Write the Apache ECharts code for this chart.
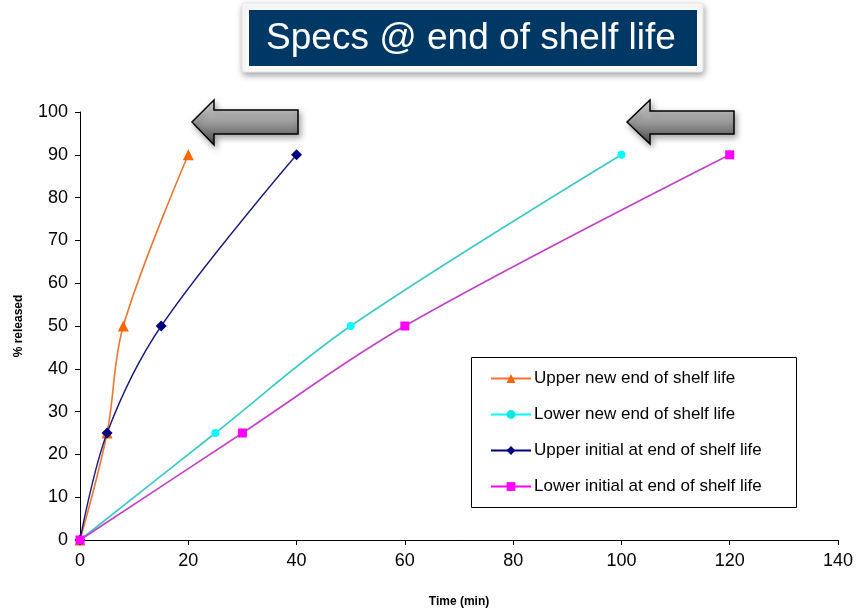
<!DOCTYPE html>
<html>
<head>
<meta charset="utf-8">
<script src="https://cdn.jsdelivr.net/npm/echarts@6/dist/echarts.min.js"></script>
<style>
  html, body { margin: 0; padding: 0; background: #ffffff; }
  #chart { width: 859px; height: 608px; }
</style>
</head>
<body>
<div id="chart"></div>
<script>
// Dissolution profiles: time (min) vs % released
const seriesNames = [
  'Upper new end of shelf life',
  'Lower new end of shelf life',
  'Upper initial at end of shelf life',
  'Lower initial at end of shelf life'
];
const upperNewTime = [0, 5, 8, 20];
const upperNewPct = [0, 25, 50, 90];
const lowerNewTime = [0, 25, 50, 100];
const lowerNewPct = [0, 25, 50, 90];
const upperInitialTime = [0, 5, 15, 40];
const upperInitialPct = [0, 25, 50, 90];
const lowerInitialTime = [0, 30, 60, 120];
const lowerInitialPct = [0, 25, 50, 90];

const xTitle = 'Time (min)';
const yTitle = '% released';
const headline = 'Specs @ end of shelf life';

function pairs(xs, ys) {
  return xs.map((x, i) => [x, ys[i]]);
}

const chart = echarts.init(document.getElementById('chart'), null, { renderer: 'canvas' });

const FONT = 'Liberation Sans, Arial, sans-serif';

function arrow(tipX, tipY, headX, headTop, headBottom, shaftTop, shaftBottom, tailX) {
  return {
    type: 'polygon',
    z: 100,
    shape: {
      points: [
        [tipX, tipY], [headX, headTop], [headX, shaftTop], [tailX, shaftTop],
        [tailX, shaftBottom], [headX, shaftBottom], [headX, headBottom]
      ]
    },
    style: {
      fill: new echarts.graphic.LinearGradient(0, 0, 0, 1, [
        { offset: 0, color: '#e0e0e0' },
        { offset: 0.5, color: '#9a9a9a' },
        { offset: 1, color: '#4a4a4a' }
      ]),
      stroke: '#000000',
      lineWidth: 1.5,
      shadowBlur: 6,
      shadowOffsetX: 2,
      shadowOffsetY: 3,
      shadowColor: 'rgba(0,0,0,0.35)'
    }
  };
}

const option = {
  backgroundColor: '#ffffff',
  animation: false,
  textStyle: { fontFamily: FONT },
  grid: { left: 80, right: 21, top: 112, bottom: 68, containLabel: false, outerBoundsMode: 'none' },
  xAxis: {
    type: 'value',
    min: 0, max: 140, interval: 20,
    name: xTitle,
    nameLocation: 'middle',
    nameGap: 56,
    nameTextStyle: { fontFamily: FONT, fontSize: 12, fontWeight: 'bold', color: '#000' },
    axisLine: { show: true, onZero: false, lineStyle: { color: '#000', width: 1 } },
    axisTick: { show: true, inside: false, length: 5, lineStyle: { color: '#000' } },
    axisLabel: { fontFamily: FONT, fontSize: 18, color: '#000', margin: 12 },
    splitLine: { show: false }
  },
  yAxis: {
    type: 'value',
    min: 0, max: 100, interval: 10,
    name: yTitle,
    nameLocation: 'middle',
    nameGap: 55,
    nameRotate: 90,
    nameTextStyle: { fontFamily: FONT, fontSize: 12, fontWeight: 'bold', color: '#000' },
    axisLine: { show: true, lineStyle: { color: '#000', width: 1 } },
    axisTick: { show: true, inside: false, length: 5, lineStyle: { color: '#000' } },
    axisLabel: { fontFamily: FONT, fontSize: 18, color: '#000', margin: 12 },
    splitLine: { show: false }
  },
  legend: {
    orient: 'vertical',
    left: 490,
    top: 369,
    itemWidth: 40,
    itemHeight: 11,
    itemGap: 17,
    padding: 0,
    textStyle: { fontFamily: FONT, fontSize: 17, color: '#000', padding: [0, 0, 0, -2], lineHeight: 19 },
    data: [
      { name: seriesNames[0], lineStyle: { color: '#ff7030' }, itemStyle: { color: '#ff6600' } },
      { name: seriesNames[1], lineStyle: { color: '#00ffff' }, itemStyle: { color: '#00e8e8' } },
      { name: seriesNames[2], lineStyle: { color: '#000080' }, itemStyle: { color: '#000080' } },
      { name: seriesNames[3], lineStyle: { color: '#ff00ff' }, itemStyle: { color: '#ff00ff' } }
    ]
  },
  series: [
    {
      name: seriesNames[0], type: 'line', smooth: 0.35,
      data: pairs(upperNewTime, upperNewPct),
      symbol: 'triangle', symbolSize: 11,
      lineStyle: { color: '#ee7530', width: 1.6 },
      itemStyle: { color: '#ff6600' }, z: 4
    },
    {
      name: seriesNames[1], type: 'line', smooth: 0.35,
      data: pairs(lowerNewTime, lowerNewPct),
      symbol: 'circle', symbolSize: 8,
      lineStyle: { color: '#3cc8c8', width: 1.6 },
      itemStyle: { color: '#00ffff' }, z: 3
    },
    {
      name: seriesNames[2], type: 'line', smooth: 0.35,
      data: pairs(upperInitialTime, upperInitialPct),
      symbol: 'diamond', symbolSize: 11,
      lineStyle: { color: '#1a1a80', width: 1.4 },
      itemStyle: { color: '#000080' }, z: 5
    },
    {
      name: seriesNames[3], type: 'line', smooth: 0.35,
      data: pairs(lowerInitialTime, lowerInitialPct),
      symbol: 'rect', symbolSize: 9,
      lineStyle: { color: '#c040c8', width: 1.6 },
      itemStyle: { color: '#ff00ff' }, z: 6
    }
  ],
  graphic: [
    // legend frame
    {
      type: 'rect', z: 1,
      shape: { x: 471.5, y: 357.5, width: 325, height: 150 },
      style: { fill: '#ffffff', stroke: '#000000', lineWidth: 1 }
    },
    // headline banner
    {
      type: 'rect', z: 100,
      shape: { x: 242, y: 3, width: 461, height: 69, r: 3 },
      style: {
        fill: '#ffffff', stroke: '#e8e8e8', lineWidth: 1,
        shadowBlur: 6, shadowOffsetX: 1, shadowOffsetY: 3, shadowColor: 'rgba(0,0,0,0.35)'
      }
    },
    {
      type: 'rect', z: 101,
      shape: { x: 249, y: 10, width: 448, height: 56 },
      style: { fill: '#003865' }
    },
    {
      type: 'text', z: 102,
      x: 471, y: 39,
      style: {
        text: headline, fill: '#ffffff',
        font: '37px ' + FONT,
        align: 'center', verticalAlign: 'middle'
      }
    },
    arrow(192, 122, 214, 100, 145, 110, 134, 298),
    arrow(627, 122, 650, 100, 144, 111, 134, 734)
  ]
};

chart.setOption(option);
</script>
</body>
</html>
